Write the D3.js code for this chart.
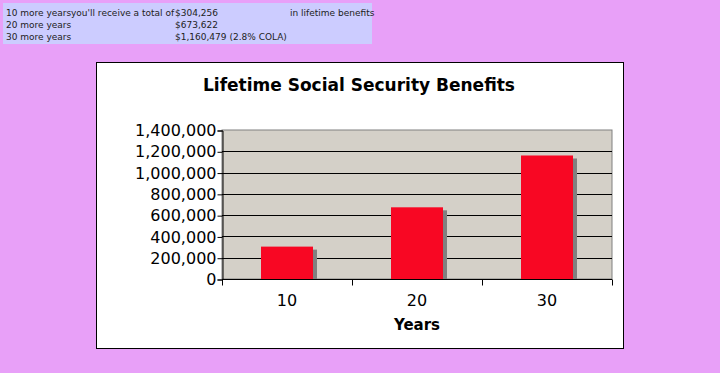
<!DOCTYPE html>
<html lang="en">
<head>
<meta charset="utf-8">
<title>Lifetime Social Security Benefits</title>
<script src="https://cdn.jsdelivr.net/npm/d3@7"></script>
<style>
  body { margin: 0; background: #e8a0f8; width: 720px; height: 373px; overflow: hidden; }
  svg text { font-family: "DejaVu Sans", Verdana, sans-serif; }
</style>
</head>
<body>
<div id="chart"></div>
<script>
// data
var years = ["10", "20", "30"];
var benefits = [304256, 673622, 1160479];
var yTicks = [0, 200000, 400000, 600000, 800000, 1000000, 1200000, 1400000];
var infoRows = [
  ["10 more years", "you'll receive a total of", "$304,256", "in lifetime benefits"],
  ["20 more years", "", "$673,622", ""],
  ["30 more years", "", "$1,160,479 (2.8% COLA)", ""]
];

var svg = d3.select("#chart").append("svg")
    .attr("width", 720)
    .attr("height", 373);

// info box at the top
var info = svg.append("g");
info.append("rect")
    .attr("x", 3).attr("y", 3)
    .attr("width", 369).attr("height", 41)
    .attr("fill", "#ccccff");
var colX = [6, 71, 175, 290];
infoRows.forEach(function(row, i) {
  row.forEach(function(t, j) {
    if (!t) return;
    info.append("text")
        .attr("x", colX[j])
        .attr("y", 16 + i * 12)
        .attr("font-family", "'DejaVu Sans Condensed', 'DejaVu Sans', sans-serif")
        .attr("font-size", "9px")
        .attr("fill", "#222")
        .text(t);
  });
});

// chart box
svg.append("rect")
    .attr("x", 96.5).attr("y", 62.5)
    .attr("width", 527).attr("height", 286)
    .attr("fill", "#fff")
    .attr("stroke", "#000");

svg.append("text")
    .attr("x", 359).attr("y", 91)
    .attr("text-anchor", "middle")
    .attr("font-size", "17px")
    .attr("font-weight", "bold")
    .text("Lifetime Social Security Benefits");

var margin = {left: 222, top: 130, right: 612, bottom: 279};

var x = d3.scaleBand()
    .domain(years)
    .range([margin.left, margin.right])
    .paddingInner(0)
    .paddingOuter(0);

var y = d3.scaleLinear()
    .domain([0, 1400000])
    .range([margin.bottom, margin.top]);

// plot area
svg.append("rect")
    .attr("x", margin.left).attr("y", margin.top)
    .attr("width", margin.right - margin.left)
    .attr("height", margin.bottom - margin.top)
    .attr("fill", "#d4d0c8")
    .attr("stroke", "#808080");

// gridlines
svg.append("g")
    .selectAll("line")
    .data(yTicks.slice(1, -1))
    .enter().append("line")
    .attr("x1", margin.left).attr("x2", margin.right)
    .attr("y1", function(d) { return Math.round(y(d)) + 0.5; })
    .attr("y2", function(d) { return Math.round(y(d)) + 0.5; })
    .attr("stroke", "#000");

// bars with shadow
var bw = x.bandwidth() * 0.4;
var bars = svg.append("g");
bars.selectAll(".shadow")
    .data(benefits)
    .enter().append("rect")
    .attr("class", "shadow")
    .attr("x", function(d, i) { return x(years[i]) + (x.bandwidth() - bw) / 2 + 4; })
    .attr("y", function(d) { return y(d) + 3; })
    .attr("width", bw)
    .attr("height", function(d) { return margin.bottom - y(d) - 3; })
    .attr("fill", "#808080");
bars.selectAll(".bar")
    .data(benefits)
    .enter().append("rect")
    .attr("class", "bar")
    .attr("x", function(d, i) { return x(years[i]) + (x.bandwidth() - bw) / 2; })
    .attr("y", function(d) { return y(d); })
    .attr("width", bw)
    .attr("height", function(d) { return margin.bottom - y(d); })
    .attr("fill", "#f80723");

// y axis
var yAxis = svg.append("g")
    .attr("transform", "translate(" + (margin.left + 0.5) + ",0.5)")
    .call(d3.axisLeft(y).tickValues(yTicks).tickSize(5).tickPadding(1)
      .tickFormat(d3.format(",")));
yAxis.select(".domain").attr("stroke", "#000");
yAxis.selectAll("text").attr("font-size", "16px").attr("fill", "#000")
    .attr("font-family", "'DejaVu Sans', Verdana, sans-serif");

// x axis
var xAxis = svg.append("g")
    .attr("transform", "translate(0," + (margin.bottom + 0.5) + ")");
xAxis.append("line")
    .attr("x1", margin.left).attr("x2", margin.right)
    .attr("stroke", "#000");
xAxis.selectAll(".tk")
    .data(years.concat(["end"]))
    .enter().append("line")
    .attr("class", "tk")
    .attr("x1", function(d, i) { return Math.round(margin.left + i * x.step()) + 0.5; })
    .attr("x2", function(d, i) { return Math.round(margin.left + i * x.step()) + 0.5; })
    .attr("y1", 0).attr("y2", 6)
    .attr("stroke", "#000");
xAxis.selectAll(".lbl")
    .data(years)
    .enter().append("text")
    .attr("class", "lbl")
    .attr("x", function(d) { return x(d) + x.bandwidth() / 2; })
    .attr("y", 26)
    .attr("text-anchor", "middle")
    .attr("font-size", "16px")
    .text(function(d) { return d; });

svg.append("text")
    .attr("x", 417).attr("y", 330)
    .attr("text-anchor", "middle")
    .attr("font-size", "15px")
    .attr("font-weight", "bold")
    .text("Years");
</script>
</body>
</html>
